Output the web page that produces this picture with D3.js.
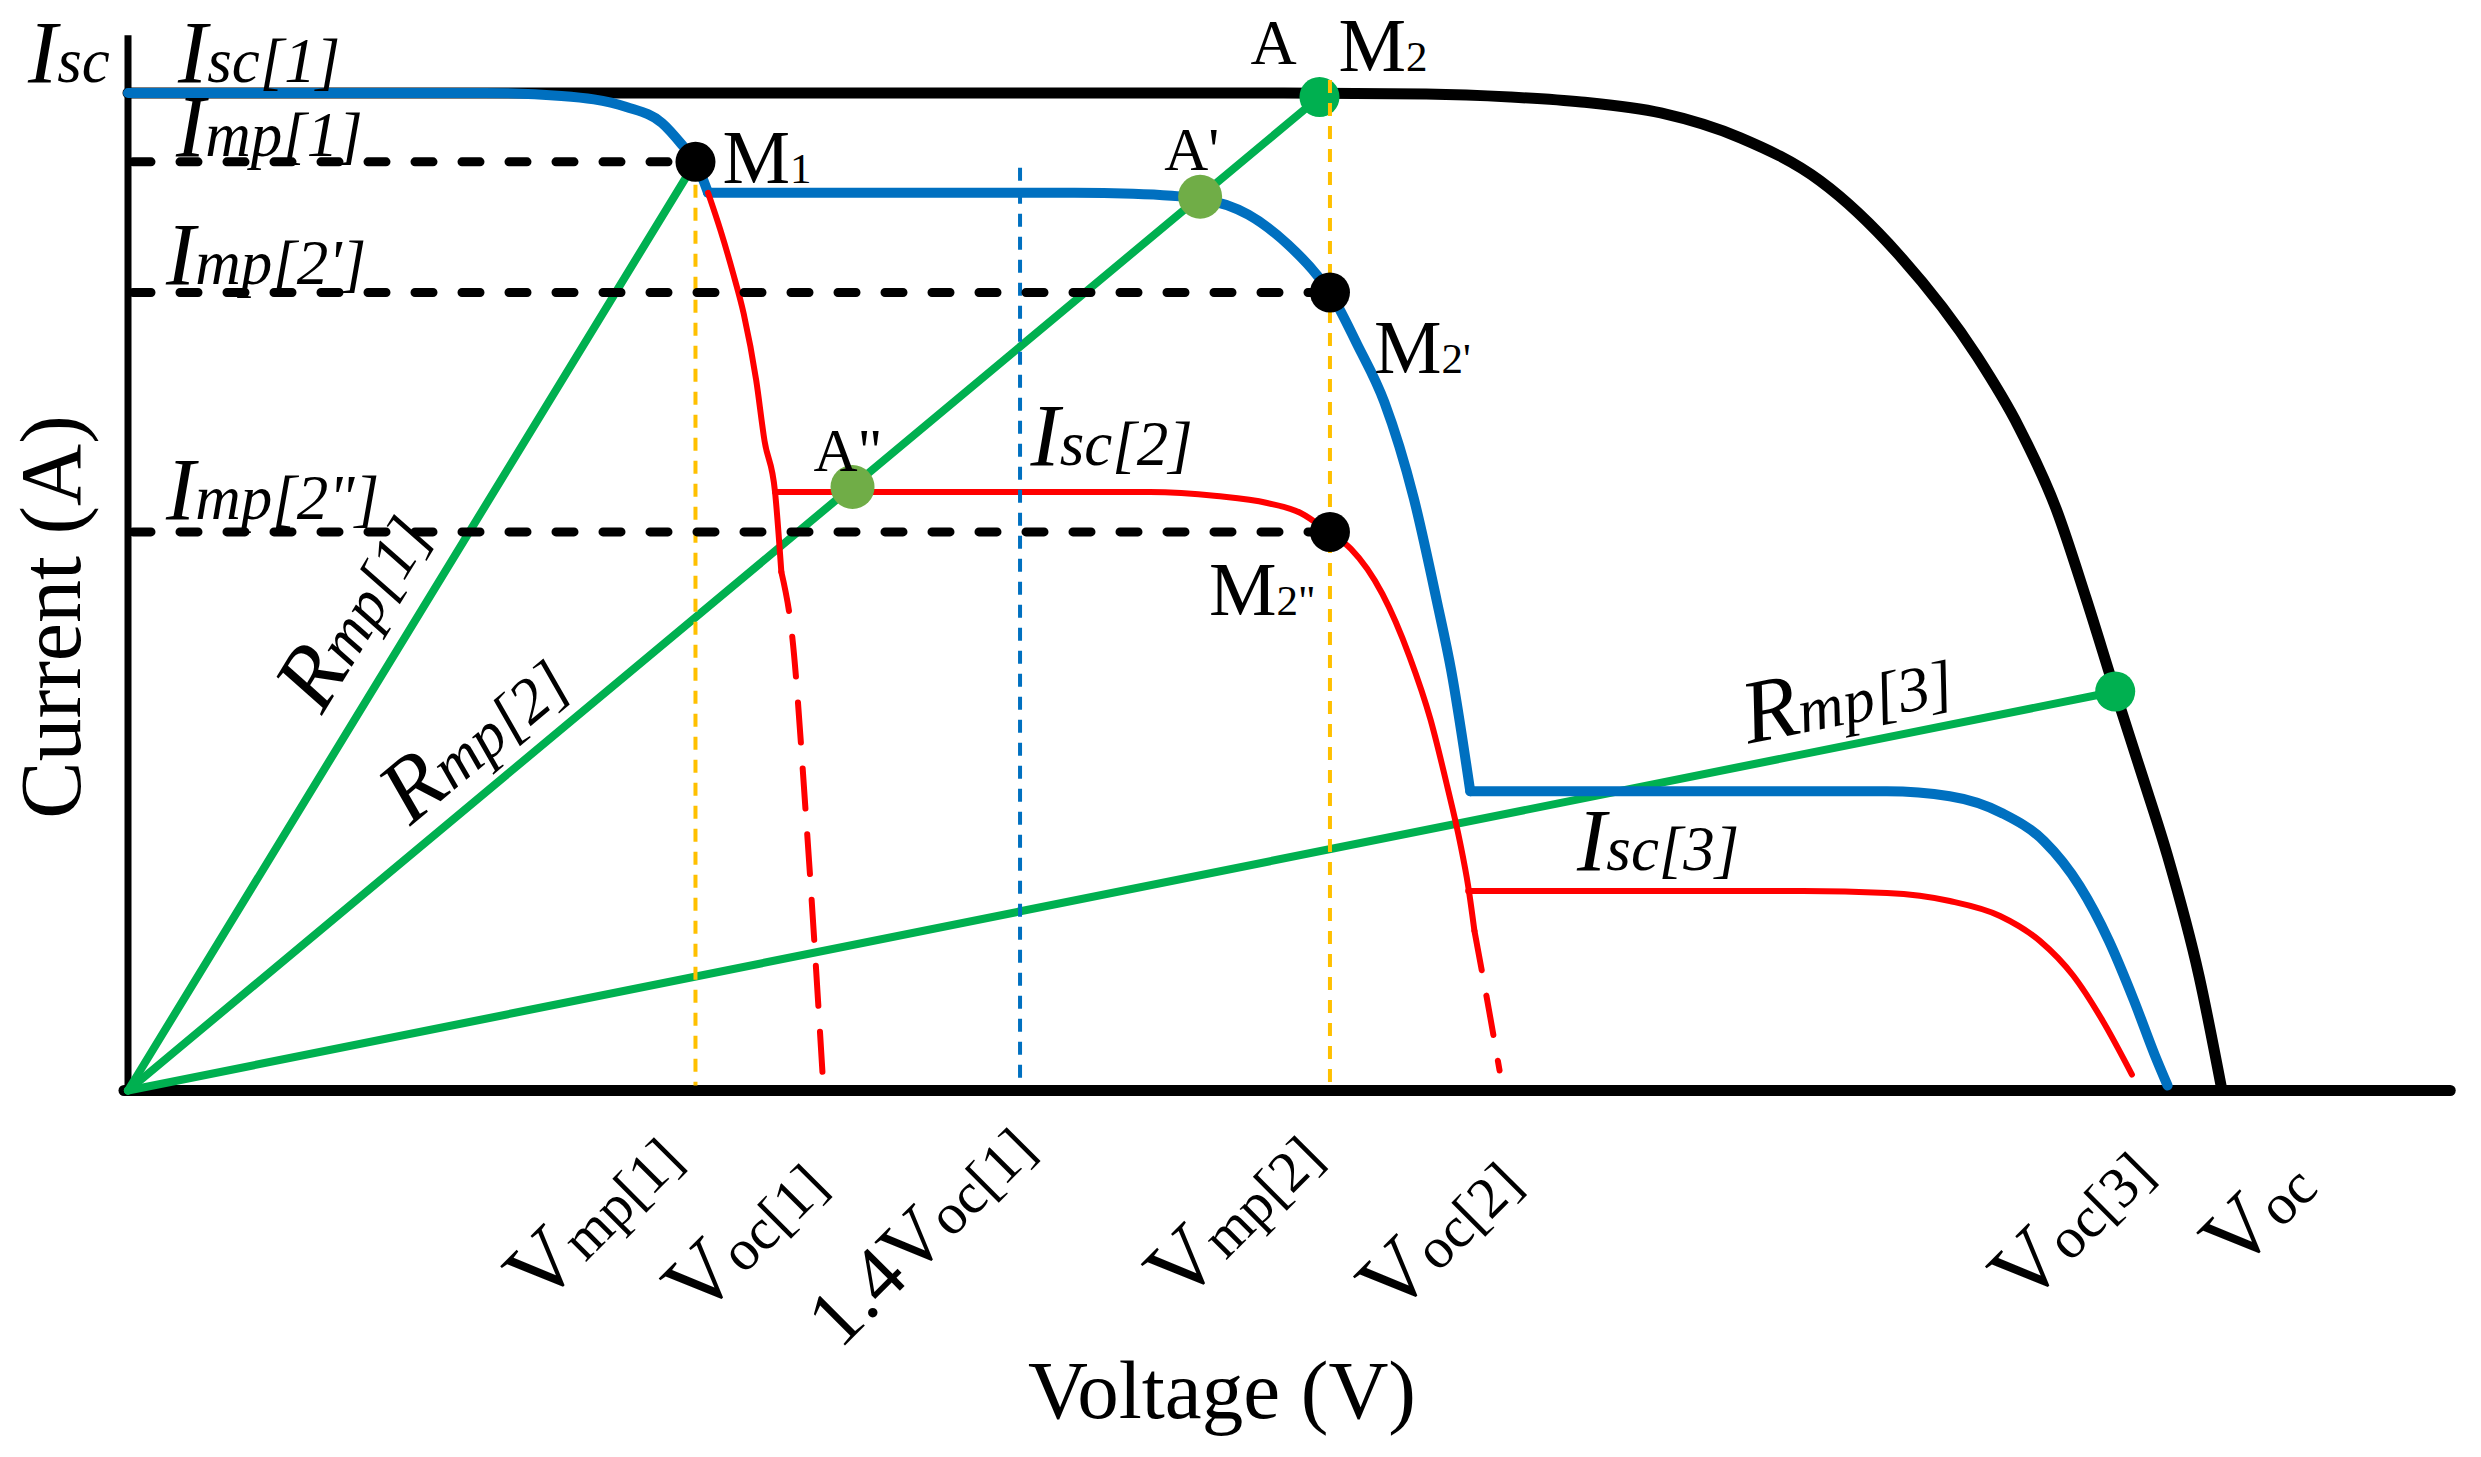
<!DOCTYPE html>
<html><head><meta charset="utf-8">
<script src="https://cdn.jsdelivr.net/npm/d3@7"></script>
<style>
html,body{margin:0;padding:0;background:#fff;}
svg{display:block;}
text{font-family:"Liberation Serif","Times New Roman",serif;fill:#000;}
</style>
</head><body>
<svg id="chart" width="2481" height="1457"></svg>
<script>
// ---------------- DATA (voltage in % of Voc, current in % of Isc) ----------------
const blackCurve = [[0,100],[40,100],[55,100],[62,99.9],[66,99.6],[69.4,99.1],[73.2,98],[77,95.5],[80.8,91.2],[84.6,83.7],[88.3,73.6],[90.3,66.5],[92.1,58.2],[93.5,49.4],[94.9,40],[96.2,31.5],[97.4,23.5],[98.9,11.5],[100,0]];
const blueSeg1 = [[0,100],[17,100],[20.7,99.7],[23.8,98.6],[25.5,97],[26.5,94.7],[27.1,93.1],[27.7,90]];
const blueSeg2 = [[27.7,90],[40,90],[45.2,90],[48,89.9],[51.2,89.4],[53.5,87.8],[55.4,84.8],[56.8,81.7],[57.4,80],[58.7,74.8],[60,69],[61.4,59.4],[62.5,49.1],[63.2,42],[64.1,30]];
const blueSeg3 = [[64.1,30],[75,30],[84,30],[87,29.5],[89.5,27.8],[91.5,25],[93.2,20.5],[94.6,15],[95.8,9],[96.8,3.5],[97.4,0.5]];
const redSeg1 = [[27.7,90],[28.3,86.2],[28.9,81.9],[29.4,77.9],[30,71.2],[30.4,65.1],[30.9,60],[31.2,52]];
const redSeg1Dash = [[31.2,52],[31.7,45.9],[32.4,26.8],[33.2,0.6]];
const redSeg2 = [[30.9,60],[40,60],[48.8,60],[52,59.6],[54.4,58.9],[56,57.9],[57.4,55.9],[58.4,54.3],[59.9,49.8],[61.2,43.5],[62.2,37.2],[63,30.5],[63.6,25],[64,20.5],[64.3,16]];
const redSeg2Dash = [[64.3,16],[65,8],[65.5,2]];
const redSeg3 = [[64,20],[80,20],[84,19.8],[87,19],[89.4,17.5],[91.3,15],[92.9,11.5],[94.3,7],[95.7,1.6]];

// maximum power points [V, I]
const pointM1 = [27.1,93.1];
const pointM2 = [56.9,99.6];
const pointM2p = [57.4,80];
const pointM2pp = [57.4,56];
const pointR3 = [94.9,40];
// intersections of Rmp[2] with the partial curves
const pointA1 = [51.2,89.6];
const pointA2 = [34.6,60.5];

// vertical guide lines: [V, top I]
const vmp1Line = [27.1,93.1];
const voc14Line = [42.6,92.5];
const vmp2Line = [57.4,101.3];

// x-axis labels
const tickValues = [27.1,33.2,42.6,57.4,65.5,97.4,100];
const tickMain = ["V","V","1.4V","V","V","V","V"];
const tickSub = ["mp[1]","oc[1]","oc[1]","mp[2]","oc[2]","oc[3]","oc"];

// ---------------- LAYOUT ----------------
const W = 2481, H = 1457;
const x = d3.scaleLinear().domain([0,100]).range([128,2222]);
const y = d3.scaleLinear().domain([0,100]).range([1090.5,93]);
const xMax = 110.9, yMax = 105.8;

const C = {black:"#000000", blue:"#0070C0", red:"#FF0000", green:"#00B050", lgreen:"#70AD47", yellow:"#FFC000"};
const svg = d3.select("#chart");
svg.append("rect").attr("width",W).attr("height",H).attr("fill","#fff");

const lineMono = d3.line().x(d=>x(d[0])).y(d=>y(d[1])).curve(d3.curveMonotoneX);
const lineLin = d3.line().x(d=>x(d[0])).y(d=>y(d[1]));

// axes
svg.append("line").attr("x1",x(0)).attr("x2",x(0)).attr("y1",y(0)+5).attr("y2",y(yMax))
  .attr("stroke","#000").attr("stroke-width",7);
svg.append("line").attr("x1",x(0)-4).attr("x2",x(xMax)).attr("y1",y(0)).attr("y2",y(0))
  .attr("stroke","#000").attr("stroke-width",11).attr("stroke-linecap","round");

// green load lines
[pointM1,pointM2,pointR3].forEach(p=>{
  svg.append("path").attr("d",lineLin([[0,0],p])).attr("fill","none")
    .attr("stroke",C.green).attr("stroke-width",8).attr("stroke-linecap","round");
});

function drawPath(data, color, w, dash){
  const p = svg.append("path").attr("d",lineMono(data)).attr("fill","none")
    .attr("stroke",color).attr("stroke-width",w).attr("stroke-linecap","round").attr("stroke-linejoin","round");
  if(dash) p.attr("stroke-dasharray",dash);
  return p;
}
drawPath(blackCurve, C.black, 11);
drawPath(blueSeg1, C.blue, 10);
drawPath(blueSeg2, C.blue, 10);
drawPath(blueSeg3, C.blue, 10);
drawPath(redSeg1, C.red, 6);
drawPath(redSeg1Dash, C.red, 6, "40,26");
drawPath(redSeg2, C.red, 6);
drawPath(redSeg2Dash, C.red, 6, "40,26");
drawPath(redSeg3, C.red, 6);

// green dots
[pointM2, pointR3].forEach(p=>{
  svg.append("circle").attr("cx",x(p[0])).attr("cy",y(p[1])).attr("r",20).attr("fill",C.green);
});

// vertical dashed guides
[[vmp1Line,C.yellow],[voc14Line,C.blue],[vmp2Line,C.yellow]].forEach(([d,c])=>{
  svg.append("line").attr("x1",x(d[0])).attr("x2",x(d[0])).attr("y1",y(d[1])).attr("y2",y(0)-5)
    .attr("stroke",c).attr("stroke-width",4).attr("stroke-dasharray","13,10");
});

// horizontal black dashed lines
[pointM1, pointM2p, pointM2pp].forEach(p=>{
  svg.append("line").attr("x1",x(0)+5).attr("x2",x(p[0])).attr("y1",y(p[1])).attr("y2",y(p[1]))
    .attr("stroke","#000").attr("stroke-width",9).attr("stroke-linecap","round").attr("stroke-dasharray","18,29");
});

// black dots
[pointM1, pointM2p, pointM2pp].forEach(p=>{
  svg.append("circle").attr("cx",x(p[0])).attr("cy",y(p[1])).attr("r",20).attr("fill","#000");
});
// light green dots
[pointA1, pointA2].forEach(p=>{
  svg.append("circle").attr("cx",x(p[0])).attr("cy",y(p[1])).attr("r",22).attr("fill",C.lgreen);
});

// ---------------- TEXT ----------------
const BIG = 88, SMALL = 63;
function label(px, py, parts, opts={}){
  const t = svg.append("text").attr("x",px).attr("y",py);
  if(opts.italic) t.attr("font-style","italic");
  if(opts.anchor) t.attr("text-anchor",opts.anchor);
  if(opts.transform) t.attr("transform",opts.transform).attr("x",0).attr("y",0);
  parts.forEach(([s,fs])=>t.append("tspan").attr("font-size",fs).text(s));
  return t;
}
// current labels (italic)
label(28, y(100)-11, [["I",BIG],["sc",SMALL]], {italic:true});
label(178, y(100)-11, [["I",BIG],["sc[1]",SMALL]], {italic:true});
label(176, y(pointM1[1])-6, [["I",BIG],["mp[1]",SMALL]], {italic:true});
label(166, y(pointM2p[1])-9, [["I",BIG],["mp[2']",SMALL]], {italic:true});
label(166, y(pointM2pp[1])-13, [["I",BIG],["mp[2\"]",SMALL]], {italic:true});
label(x(43.1), y(60)-27, [["I",BIG],["sc[2]",SMALL]], {italic:true});
label(x(69.2), y(20)-21, [["I",BIG],["sc[3]",SMALL]], {italic:true});

// point labels
const MF = 76, SF = 43;
label(x(pointM1[0])+27, y(pointM1[1])+21, [["M",MF],["1",SF]]);
label(x(pointM2[0])-69, y(pointM2[1])-33, [["A",64]]);
label(x(pointM2[0])+19, y(pointM2[1])-26, [["M",MF],["2",SF]]);
label(x(pointA1[0])-36, y(pointA1[1])-27, [["A'",61]]);
label(x(pointM2p[0])+44, y(pointM2p[1])+80, [["M",MF],["2'",SF]]);
label(x(pointA2[0])-39, y(pointA2[1])-16, [["A\"",61]]);
label(x(pointM2pp[0])-121, y(pointM2pp[1])+83, [["M",MF],["2\"",SF]]);

// Rmp labels along load lines: [point, start distance along line, offset]
[[pointM1,421,30,"mp[1]"],[pointM2,386,22,"mp[2]"],[pointR3,1657,21,"mp[3]"]].forEach(([p,t,off,sub])=>{
  const x0=x(0), y0=y(0), x1=x(p[0]), y1=y(p[1]);
  const L=Math.hypot(x1-x0,y1-y0), ux=(x1-x0)/L, uy=(y1-y0)/L;
  const nx=uy, ny=-ux;
  const px=x0+ux*t+nx*off, py=y0+uy*t+ny*off;
  const ang=Math.atan2(uy,ux)*180/Math.PI;
  label(0,0,[["R",90],[sub,SMALL]],{italic:true, transform:`translate(${px},${py}) rotate(${ang})`});
});

// x tick labels rotated -45
const tickOffsets = [[-10,72],[7,98],[18,62],[-4,70],[25,96],[-11,86],[98,100]];
const tickBig = [88,88,80,88,88,88,88];
tickValues.forEach((v,i)=>{
  const px = x(v)+tickOffsets[i][0], py = y(0)+tickOffsets[i][1];
  label(0,0,[[tickMain[i],tickBig[i]],[tickSub[i],58]],{anchor:"end", transform:`translate(${px},${py}) rotate(-45)`});
});

// axis titles
svg.append("text").attr("x",1222).attr("y",1418).attr("text-anchor","middle").attr("font-size",83).text("Voltage (V)");
svg.append("text").attr("transform","translate(80,617) rotate(-90)").attr("text-anchor","middle").attr("font-size",86).text("Current (A)");
</script>
</body></html>
